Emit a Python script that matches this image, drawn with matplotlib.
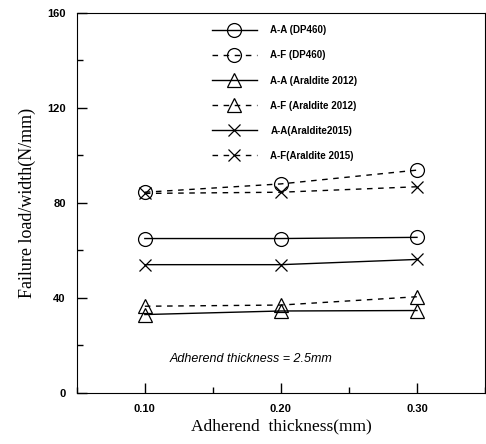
import matplotlib
matplotlib.use('Agg')
import matplotlib.pyplot as plt
from matplotlib.ticker import MultipleLocator

# data
thickness = [0.10, 0.20, 0.30]
aa_dp460 = [65, 65, 65.5]
af_dp460 = [84.5, 88, 93.8]
aa_2012 = [33, 34.5, 34.7]
af_2012 = [36.5, 37, 40.5]
aa_2015 = [54, 54, 56.2]
af_2015 = [84, 84.5, 86.8]

labels = ['A-A (DP460)', 'A-F (DP460)', 'A-A (Araldite 2012)',
          'A-F (Araldite 2012)', 'A-A(Araldite2015)', 'A-F(Araldite 2015)']

fig = plt.figure(figsize=(4.86, 4.44), dpi=100)
ax = fig.add_axes([0.158, 0.115, 0.84, 0.856])

kw = dict(color='black', lw=1.0, mfc='none', mec='black', mew=0.9)
ax.plot(thickness, aa_dp460, '-', marker='o', ms=10, label=labels[0], **kw)
ax.plot(thickness, af_dp460, '--', marker='o', ms=10, label=labels[1], dashes=(4, 4), **kw)
ax.plot(thickness, aa_2012, '-', marker='^', ms=10, label=labels[2], **kw)
ax.plot(thickness, af_2012, '--', marker='^', ms=10, label=labels[3], dashes=(4, 4), **kw)
ax.plot(thickness, aa_2015, '-', marker='x', ms=9, label=labels[4], **kw)
ax.plot(thickness, af_2015, '--', marker='x', ms=9, label=labels[5], dashes=(4, 4), **kw)

ax.set_xlim(0.05, 0.35)
ax.set_ylim(0, 160)
ax.set_xticks([0.10, 0.20, 0.30])
ax.set_xticklabels(['0.10', '0.20', '0.30'])
ax.set_yticks([0, 40, 80, 120, 160])
ax.xaxis.set_minor_locator(MultipleLocator(0.05))
ax.yaxis.set_minor_locator(MultipleLocator(20))
ax.tick_params(which='both', direction='in', top=False, right=False)
ax.tick_params(which='major', length=7, width=1)
ax.tick_params(which='minor', length=4, width=1)
for lab in ax.get_xticklabels() + ax.get_yticklabels():
    lab.set_fontfamily('Liberation Sans')
    lab.set_fontweight('bold')
    lab.set_fontsize(8)
ax.tick_params(axis='x', pad=8)
ax.tick_params(axis='y', pad=8)

ax.set_xlabel('Adherend  thickness(mm)', family='Liberation Serif', fontsize=12.5, labelpad=3)
ax.set_ylabel('Failure load/width(N/mm)', family='Liberation Serif', fontsize=13, labelpad=8)

ax.text(0.178, 14.3, 'Adherend thickness = 2.5mm', family='Liberation Sans',
        style='italic', fontsize=9, ha='center', va='center')

ax.legend(loc='upper left', bbox_to_anchor=(0.31, 0.99), frameon=False,
          prop={'family': 'Liberation Sans', 'weight': 'bold', 'size': 7},
          handlelength=4.6, handletextpad=1.4, labelspacing=1.55)

fig.savefig('out.png', dpi=100)
